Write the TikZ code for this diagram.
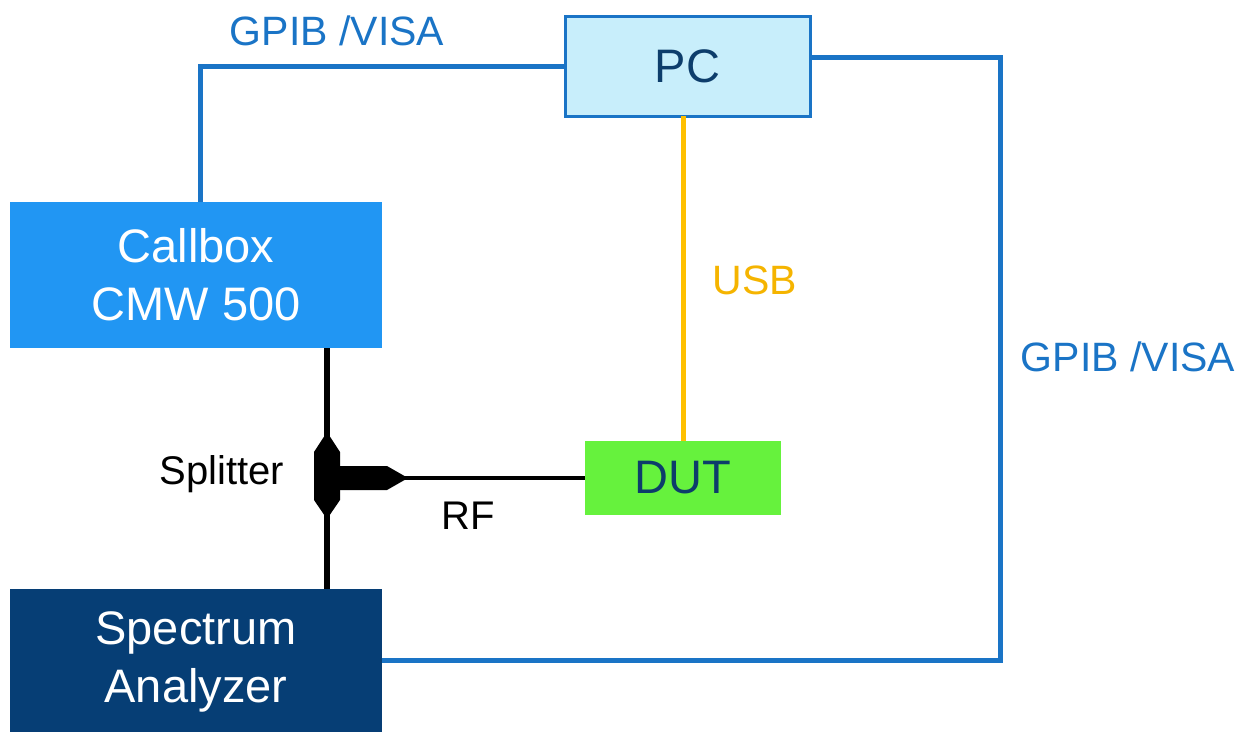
\documentclass[tikz,border=0pt]{standalone}
\usepackage{fontspec}
\setmainfont{Liberation Sans}
\definecolor{lineblue}{HTML}{1A74C6}
\definecolor{pcfill}{HTML}{C8EEFB}
\definecolor{cbfill}{HTML}{2196F3}
\definecolor{safill}{HTML}{063E75}
\definecolor{navy}{HTML}{0D3D6B}
\definecolor{dutfill}{HTML}{66F23D}
\definecolor{usbyel}{HTML}{FFC000}
\definecolor{usbtxt}{HTML}{F5B400}
\tikzset{
  box/.style={inner sep=0pt, outer sep=0pt, align=center, font=\fontsize{47}{58}\selectfont},
  bluewire/.style={draw=lineblue, line width=5pt},
  lbl/.style={inner sep=0pt, anchor=base, font=\fontsize{41}{48}\selectfont},
}
\begin{document}
\begin{tikzpicture}[x=1pt,y=-1pt]
\useasboundingbox (0,0) rectangle (1255,731);
% nodes
\node[box, fill=pcfill, draw=lineblue, line width=3pt, text=navy, minimum width=245pt, minimum height=100pt] (pc) at (687.5,66) {PC};
\node[box, fill=cbfill, text=white, minimum width=372pt, minimum height=146pt] (cb) at (196,275) {Callbox\\CMW 500};
\node[box, fill=safill, text=white, minimum width=372pt, minimum height=146pt] (sa) at (196,662) {Spectrum\\Analyzer};
\node[box, fill=dutfill, text=navy, minimum width=196pt, minimum height=74pt] (dut) at (683,478) {DUT};
% coordinates
\coordinate (rt) at (1000,57);
\coordinate (rb) at (1000,660);
\coordinate (sp) at (327,478);
% blue wires
\draw[bluewire, line join=miter] (pc.west) -| ([xshift=4pt]cb.north);
\draw[bluewire, line join=miter] ([yshift=9pt]pc.east) -- (rt) -- (rb) -- (sa.east |- rb);
% usb
\draw[draw=usbyel, line width=5pt] (pc.south -| dut.north) -- (dut.north);
% rf
\draw[line width=6pt] (cb.south -| sp) -- (sa.north -| sp);
\draw[line width=4.5pt] (sp) -- (dut.west);
% splitter body
\fill ([shift={(0,-46)}]sp) -- ([shift={(13,-26)}]sp) -- ([shift={(13,22)}]sp) -- ([shift={(0,41)}]sp) -- ([shift={(-13,22)}]sp) -- ([shift={(-13,-26)}]sp) -- cycle;
\fill ([shift={(10,-12)}]sp) -- ([shift={(60,-12)}]sp) -- ([shift={(81,0)}]sp) -- ([shift={(60,12)}]sp) -- ([shift={(10,12)}]sp) -- cycle;
% labels
\node[lbl, text=lineblue] (l1) at (337,45) {GPIB /VISA};
\node[lbl, text=lineblue] (l2) at (1128,371) {GPIB /VISA};
\node[lbl, text=usbtxt] (l3) at (755,294) {USB};
\node[lbl, font=\fontsize{40}{44}\selectfont] (l4) at (222,484) {Splitter};
\node[lbl, font=\fontsize{40}{44}\selectfont] (l5) at (468,529) {RF};
\end{tikzpicture}
\end{document}
